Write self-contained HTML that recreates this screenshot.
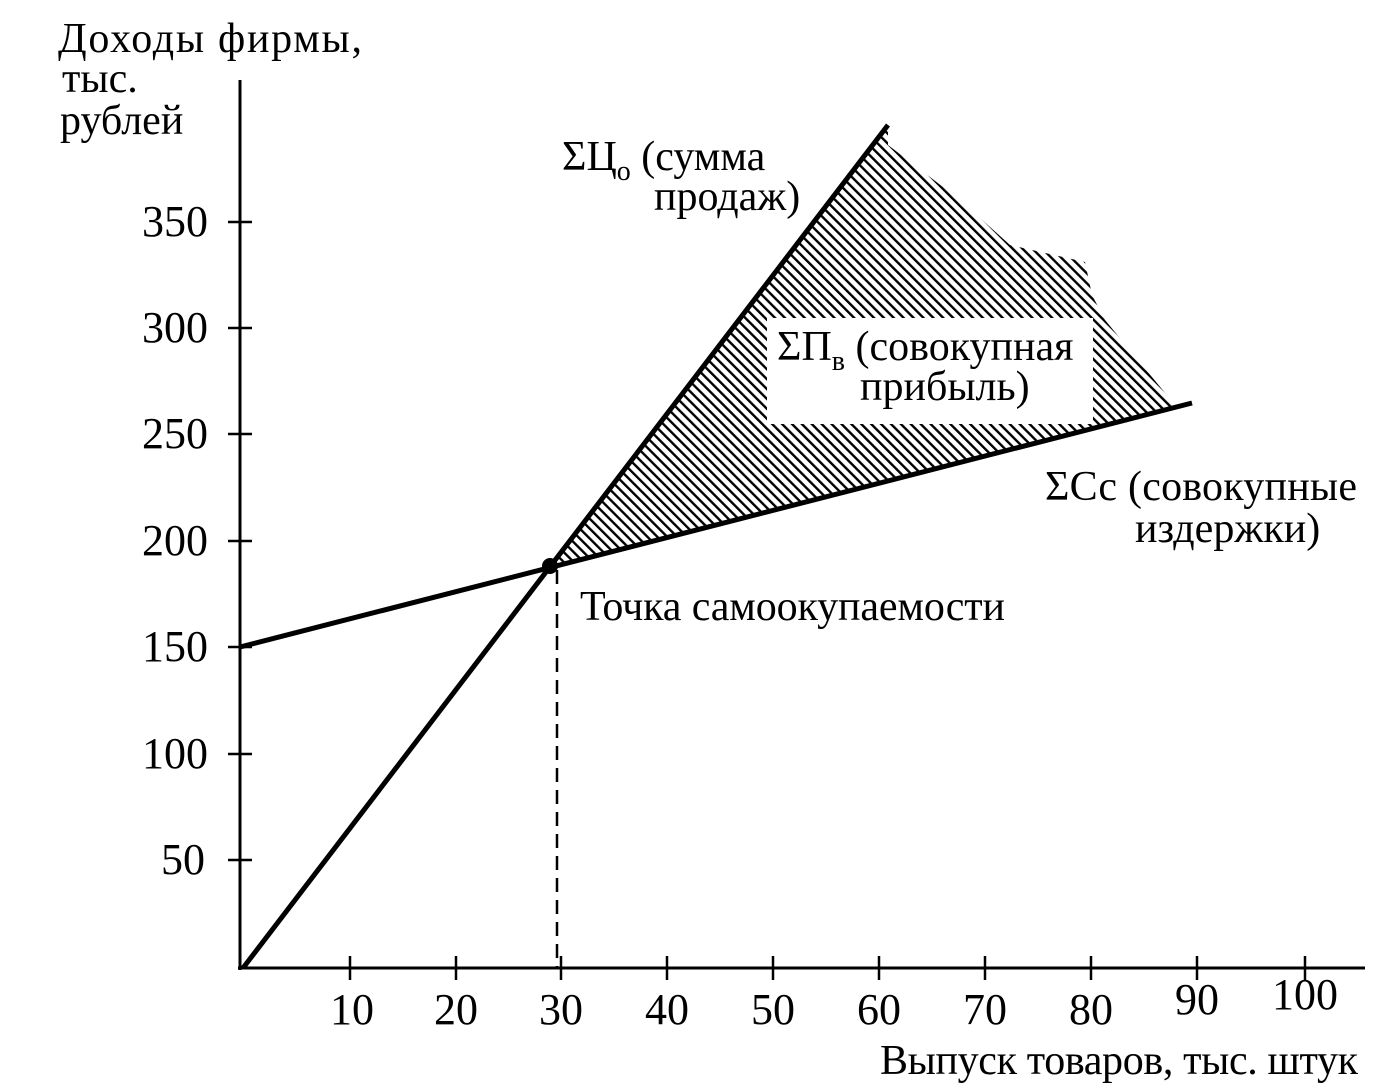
<!DOCTYPE html>
<html><head><meta charset="utf-8"><style>
body{margin:0;background:#fff}
svg text{font-family:"Liberation Serif",serif;fill:#000}
</style></head><body>
<svg width="1394" height="1087" viewBox="0 0 1394 1087" xmlns="http://www.w3.org/2000/svg">
<defs>
<pattern id="h" patternUnits="userSpaceOnUse" width="7" height="7" patternTransform="rotate(-45)">
<rect x="0" y="0" width="2.4" height="7" fill="#000"/>
</pattern>
</defs>
<polygon points="550,566 888,125 888,145 960,200 1010,245 1085,262 1092,295 1105,320 1175,405 1192,403" fill="url(#h)"/>
<rect x="767" y="318" width="326" height="106" fill="#fff"/>
<g stroke="#000" fill="none">
<line x1="240" y1="80" x2="240" y2="970" stroke-width="3"/>
<line x1="238" y1="968" x2="1365" y2="968" stroke-width="3"/>
<line x1="243" y1="968" x2="888" y2="125" stroke-width="5"/>
<line x1="240" y1="647" x2="1192" y2="403" stroke-width="5"/>
<line x1="557" y1="570" x2="557" y2="968" stroke-width="2.5" stroke-dasharray="14,8"/>
<g stroke-width="2.5">
<line x1="228" y1="222" x2="252" y2="222"/><line x1="228" y1="328" x2="252" y2="328"/>
<line x1="228" y1="434" x2="252" y2="434"/><line x1="228" y1="541" x2="252" y2="541"/>
<line x1="228" y1="647" x2="252" y2="647"/><line x1="228" y1="754" x2="252" y2="754"/>
<line x1="228" y1="860" x2="252" y2="860"/>
<line x1="350" y1="956" x2="350" y2="980"/><line x1="456" y1="956" x2="456" y2="980"/>
<line x1="561" y1="956" x2="561" y2="980"/><line x1="667" y1="956" x2="667" y2="980"/>
<line x1="773" y1="956" x2="773" y2="980"/><line x1="879" y1="956" x2="879" y2="980"/>
<line x1="985" y1="956" x2="985" y2="980"/><line x1="1091" y1="956" x2="1091" y2="980"/>
<line x1="1197" y1="956" x2="1197" y2="980"/><line x1="1305" y1="956" x2="1305" y2="980"/>
</g>
</g>
<circle cx="550" cy="566" r="8" fill="#000"/>
<g font-size="42">
<text x="58" y="52" textLength="304">Доходы фирмы,</text>
<text x="62" y="92">тыс.</text>
<text x="60" y="134">рублей</text>
<g text-anchor="end" font-size="44">
<text x="208" y="236">350</text><text x="208" y="342">300</text><text x="208" y="448">250</text>
<text x="208" y="555">200</text><text x="208" y="661">150</text><text x="208" y="768">100</text>
<text x="205" y="874">50</text>
</g>
<g text-anchor="middle" font-size="44">
<text x="352" y="1024">10</text><text x="456" y="1024">20</text><text x="561" y="1024">30</text>
<text x="667" y="1024">40</text><text x="773" y="1024">50</text><text x="879" y="1024">60</text>
<text x="985" y="1024">70</text><text x="1091" y="1024">80</text><text x="1197" y="1014">90</text>
<text x="1305" y="1009">100</text>
</g>
<text x="880" y="1074" textLength="478">Выпуск товаров, тыс. штук</text>
<text x="562" y="170">ΣЦ<tspan font-size="28" dy="10">о</tspan><tspan dy="-10"> (сумма</tspan></text>
<text x="654" y="210">продаж)</text>
<text x="777" y="360">ΣП<tspan font-size="28" dy="10">в</tspan><tspan dy="-10"> (совокупная</tspan></text>
<text x="860" y="400">прибыль)</text>
<text x="1045" y="500" textLength="312">ΣСс (совокупные</text>
<text x="1135" y="542">издержки)</text>
<text x="580" y="620" textLength="425">Точка самоокупаемости</text>
</g>
</svg>
</body></html>
